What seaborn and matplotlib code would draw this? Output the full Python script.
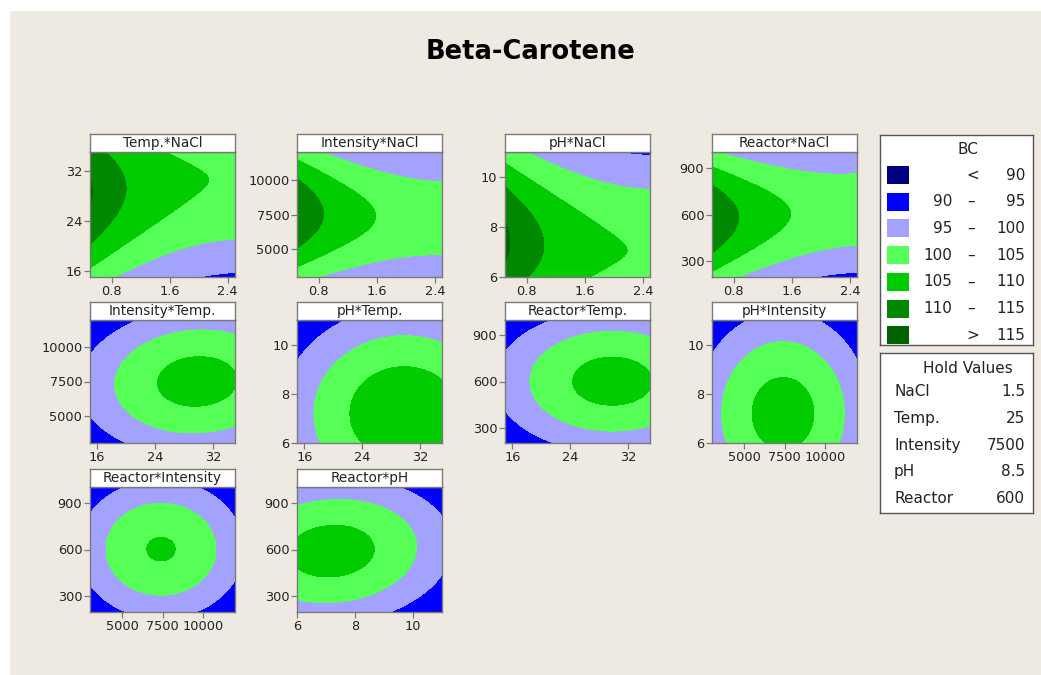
import numpy as np
import seaborn as sns
import matplotlib
matplotlib.use("Agg")
import matplotlib.pyplot as plt
from matplotlib.patches import Rectangle

# ---------------------------------------------------------------------------
# Design factors (natural units) and the settings held fixed in each panel
factors = ["NaCl", "Temp.", "Intensity", "pH", "Reactor"]
factor_low = [0.5, 15, 3000, 6, 200]
factor_high = [2.5, 35, 12000, 11, 1000]
hold_values = [1.5, 25, 7500, 8.5, 600]
hold_labels = ["1.5", "25", "7500", "8.5", "600"]

# Second-order model in coded units (-1 .. 1) for the linear predictor eta;
# the response is BC = link_floor + link_scale * exp(-eta).
link_floor = 83.0
link_scale = 22.0
intercept = -0.018
linear_coef = [0.224, -0.2496, 0.02, 0.2628, -0.005]
square_coef = [-0.111, 0.26, 0.48, 0.2527, 0.51]
interaction_a = ["NaCl", "NaCl", "NaCl", "NaCl", "Temp.", "pH"]
interaction_b = ["Temp.", "Intensity", "pH", "Reactor", "Intensity", "Reactor"]
interaction_coef = [-0.06, 0.04, 0.04, -0.08, -0.042, -0.06]

# Contour bands of BC
bc_levels = [90, 95, 100, 105, 110, 115]
band_colors = ["#000080", "#0000FF", "#A3A3FF", "#55FF55",
               "#00CC00", "#008800", "#006400"]

# Panels (x factor, y factor)
panel_x = ["NaCl", "NaCl", "NaCl", "NaCl", "Temp.", "Temp.", "Temp.",
           "Intensity", "Intensity", "pH"]
panel_y = ["Temp.", "Intensity", "pH", "Reactor", "Intensity", "pH",
           "Reactor", "pH", "Reactor", "Reactor"]

tick_values = {
    "NaCl": [0.8, 1.6, 2.4],
    "Temp.": [16, 24, 32],
    "Intensity": [5000, 7500, 10000],
    "pH": [6, 8, 10],
    "Reactor": [300, 600, 900],
}

# ---------------------------------------------------------------------------
sns.set_theme(style="white")
plt.rcParams["font.family"] = ["DejaVu Sans"]

W, H = 1041, 675
BG = "#EEEAE1"
FRAME = "#7A7A7A"
TXT = "#222222"


def predict_bc(settings):
    """Evaluate the fitted surface; settings maps factor -> array."""
    coded = {}
    for f, lo, hi in zip(factors, factor_low, factor_high):
        c, h = (lo + hi) / 2.0, (hi - lo) / 2.0
        coded[f] = (np.asarray(settings[f], dtype=float) - c) / h
    eta = intercept
    for f, b1, b2 in zip(factors, linear_coef, square_coef):
        eta = eta + b1 * coded[f] + b2 * coded[f] ** 2
    for a, b, k in zip(interaction_a, interaction_b, interaction_coef):
        eta = eta + k * coded[a] * coded[b]
    return link_floor + link_scale * np.exp(-eta)


fig = plt.figure(figsize=(W / 100, H / 100), dpi=100)
fig.patch.set_facecolor("white")
fig.patches.append(Rectangle((10 / W, 0), 1, (H - 11) / H,
                             transform=fig.transFigure, facecolor=BG,
                             edgecolor="none", zorder=-10))

fig.text(530 / W, 1 - 52 / H, "Beta-Carotene", ha="center", va="center",
         fontsize=18.5, fontweight="bold", color="black")

col_left = [90, 297, 505, 712]
row_top = [152, 320, 487]
row_bottom = [277, 443, 612]
panel_w = 145
title_h = 18

idx = {f: i for i, f in enumerate(factors)}
levels = [0] + bc_levels + [1000]

for k, (fx, fy) in enumerate(zip(panel_x, panel_y)):
    r, c = divmod(k, 4)
    left, top, bottom = col_left[c], row_top[r], row_bottom[r]
    ax = fig.add_axes([left / W, 1 - bottom / H, panel_w / W,
                       (bottom - top) / H])

    ix, iy = idx[fx], idx[fy]
    xs = np.linspace(factor_low[ix], factor_high[ix], 300)
    ys = np.linspace(factor_low[iy], factor_high[iy], 300)
    X, Y = np.meshgrid(xs, ys)
    settings = {f: np.full_like(X, v) for f, v in zip(factors, hold_values)}
    settings[fx] = X
    settings[fy] = Y
    Z = predict_bc(settings)
    ax.contourf(X, Y, Z, levels=levels, colors=band_colors,
                antialiased=False)
    ax.set_xlim(factor_low[ix], factor_high[ix])
    ax.set_ylim(factor_low[iy], factor_high[iy])
    ax.set_xticks(tick_values[fx])
    ax.set_yticks(tick_values[fy])
    ax.set_xticklabels([f"{v:g}" for v in tick_values[fx]])
    ax.set_yticklabels([f"{v:g}" for v in tick_values[fy]])
    ax.tick_params(direction="out", length=4, width=0.9, colors=FRAME,
                   labelcolor=TXT, labelsize=9.3, pad=1.5,
                   bottom=True, left=True, top=False, right=False)
    for s in ax.spines.values():
        s.set_color(FRAME)
        s.set_linewidth(1.0)
        s.set_visible(True)

    # white caption strip over the panel
    tax = fig.add_axes([left / W, 1 - top / H, panel_w / W, title_h / H])
    tax.set_xticks([])
    tax.set_yticks([])
    tax.set_facecolor("white")
    for s in tax.spines.values():
        s.set_color(FRAME)
        s.set_linewidth(1.0)
    tax.text(0.5, 0.48, f"{fy}*{fx}", ha="center", va="center",
             fontsize=9.8, color=TXT, transform=tax.transAxes)


# ---------------------------------------------------------------------------
# Legend of the contour bands and the hold-value table
def box_axes(x0, y0, x1, y1):
    a = fig.add_axes([x0 / W, 1 - y1 / H, (x1 - x0) / W, (y1 - y0) / H])
    a.set_xlim(0, x1 - x0)
    a.set_ylim(y1 - y0, 0)
    a.set_xticks([])
    a.set_yticks([])
    a.set_facecolor("white")
    for s in a.spines.values():
        s.set_color("#555555")
        s.set_linewidth(1.0)
    return a


lax = box_axes(880, 135, 1033, 345)
lax.text(88, 15, "BC", ha="center", va="center", fontsize=11, color=TXT)
lows = [None] + bc_levels
highs = bc_levels + [None]
for i, (col, lo, hi) in enumerate(zip(band_colors, lows, highs)):
    yc = 40 + 26.7 * i
    lax.add_patch(Rectangle((7, yc - 9), 22, 18, facecolor=col,
                            edgecolor="none"))
    if lo is None:
        lax.text(93, yc, "<", ha="center", va="center", fontsize=11, color=TXT)
        lax.text(145, yc, f"{hi}", ha="right", va="center", fontsize=11, color=TXT)
    elif hi is None:
        lax.text(93, yc, ">", ha="center", va="center", fontsize=11, color=TXT)
        lax.text(145, yc, f"{lo}", ha="right", va="center", fontsize=11, color=TXT)
    else:
        lax.text(72, yc, f"{lo}", ha="right", va="center", fontsize=11, color=TXT)
        lax.text(91, yc, "\u2013", ha="center", va="center", fontsize=11, color=TXT)
        lax.text(145, yc, f"{hi}", ha="right", va="center", fontsize=11, color=TXT)

hax = box_axes(880, 353, 1033, 513)
hax.text(88, 15.5, "Hold Values", ha="center", va="center", fontsize=11,
         color=TXT)
for i, (name, val) in enumerate(zip(factors, hold_labels)):
    yc = 38.7 + 26.7 * i
    hax.text(14, yc, name, ha="left", va="center", fontsize=11, color=TXT)
    hax.text(145, yc, val, ha="right", va="center", fontsize=11, color=TXT)

fig.savefig("out.png", dpi=100, facecolor=fig.get_facecolor())
